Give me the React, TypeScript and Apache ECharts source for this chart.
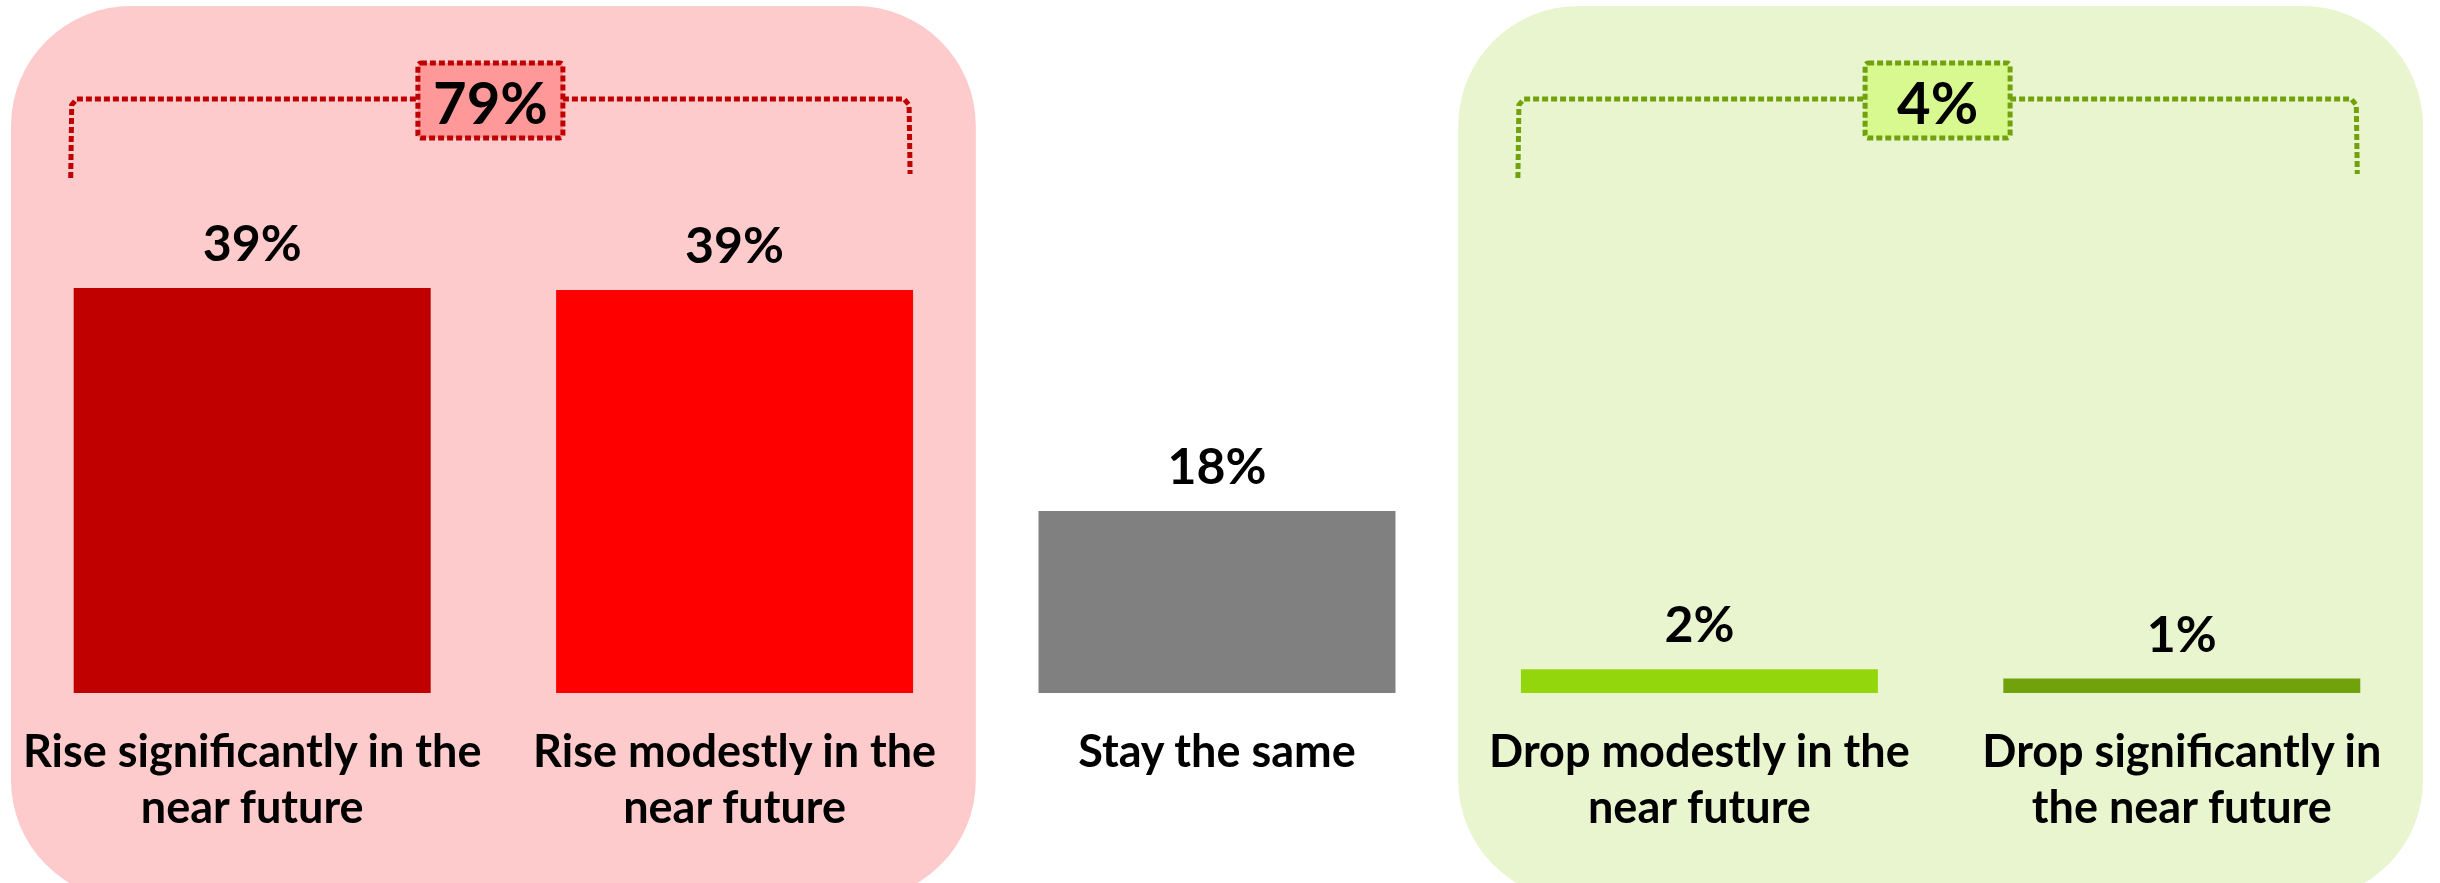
import React, { useEffect, useRef } from "react";
import * as echarts from "echarts";

const categories = [
  "Rise significantly in the\nnear future",
  "Rise modestly in the\nnear future",
  "Stay the same",
  "Drop modestly in the\nnear future",
  "Drop significantly in\nthe near future",
];
const values = [39.4, 39.2, 17.7, 2.3, 1.4];
const barColors = ["#C00000", "#FF0000", "#808080", "#94D60C", "#72A20B"];
const groupMembers = [
  [0, 1],
  [3, 4],
];
const panelColors = ["#FDCBCB", "#E8F5CF"];
const bracketColors = ["#C00000", "#72A20B"];
const boxFills = ["#FF9999", "#D8F890"];

const FONT = "Lato, 'Open Sans', sans-serif";

export default function App() {
  const ref = useRef<HTMLDivElement>(null);
  useEffect(() => {
    const chart = echarts.init(ref.current!, null, { renderer: "svg" });
    const option: any = {
      animation: false,
      grid: { left: 11, right: 17, top: 179, bottom: 190 },
      xAxis: {
        type: "category",
        data: categories,
        axisLine: { show: false },
        axisTick: { show: false },
        axisLabel: {
          interval: 0,
          color: "#000",
          fontFamily: FONT,
          fontWeight: "bold",
          fontSize: 45,
          lineHeight: 56,
          margin: 29,
        },
      },
      yAxis: { type: "value", min: 0, max: 50, show: false },
      series: [
        {
          type: "bar",
          z: 5,
          data: values.map((v, i) => ({ value: v, itemStyle: { color: barColors[i] } })),
          barCategoryGap: "26%",
          label: {
            show: true,
            position: "top",
            distance: 21,
            formatter: (p: any) => Math.round(p.value) + "%",
            fontFamily: FONT,
            fontWeight: "bold",
            fontSize: 50,
            color: "#000",
          },
        },
      ],
    };
    chart.setOption(option);

    const cx = (i: number) => chart.convertToPixel({ xAxisIndex: 0 }, i) as number;
    const band = cx(1) - cx(0);
    const barW = band * 0.74;
    const graphics: any[] = [];
    groupMembers.forEach((g, k) => {
      const a = g[0];
      const b = g[g.length - 1];
      const left = cx(a) - band / 2;
      const right = cx(b) + band / 2;
      graphics.push({
        type: "rect",
        z: 0,
        silent: true,
        shape: { x: left, y: 6, width: right - left, height: 894, r: 120 },
        style: { fill: panelColors[k] },
      });
      const x1 = cx(a) - barW / 2 - 3;
      const x2 = cx(b) + barW / 2 - 3;
      const mid = (x1 + x2) / 2;
      const boxW = 145;
      const boxH = 75;
      const lineY = 99;
      const lineStyle = { stroke: bracketColors[k], lineWidth: 5, lineDash: [6, 3], fill: null };
      graphics.push({
        type: "polyline",
        z: 1,
        silent: true,
        shape: { points: [[x1, 178], [x1 + 1, lineY + 6], [x1 + 6, lineY], [mid - boxW / 2, lineY]] },
        style: lineStyle,
      });
      graphics.push({
        type: "polyline",
        z: 1,
        silent: true,
        shape: { points: [[mid + boxW / 2, lineY], [x2 - 6, lineY], [x2 - 1, lineY + 6], [x2, 174]] },
        style: lineStyle,
      });
      graphics.push({
        type: "rect",
        z: 1,
        silent: true,
        shape: { x: mid - boxW / 2, y: 63, width: boxW, height: boxH, r: 3 },
        style: { fill: boxFills[k], stroke: bracketColors[k], lineWidth: 5, lineDash: [6, 3] },
      });
      const total = g.reduce((s, i) => s + values[i], 0);
      graphics.push({
        type: "text",
        z: 2,
        silent: true,
        x: mid,
        y: 101,
        style: {
          text: Math.round(total) + "%",
          fill: "#000",
          fontFamily: FONT,
          fontWeight: "bold",
          fontSize: 58,
          align: "center",
          verticalAlign: "middle",
        },
      });
    });
    chart.setOption({ graphic: graphics });

    return () => chart.dispose();
  }, []);
  return (
    <div
      ref={ref}
      style={{ position: "fixed", left: 0, top: 0, width: 2440, height: 883 }}
    />
  );
}
